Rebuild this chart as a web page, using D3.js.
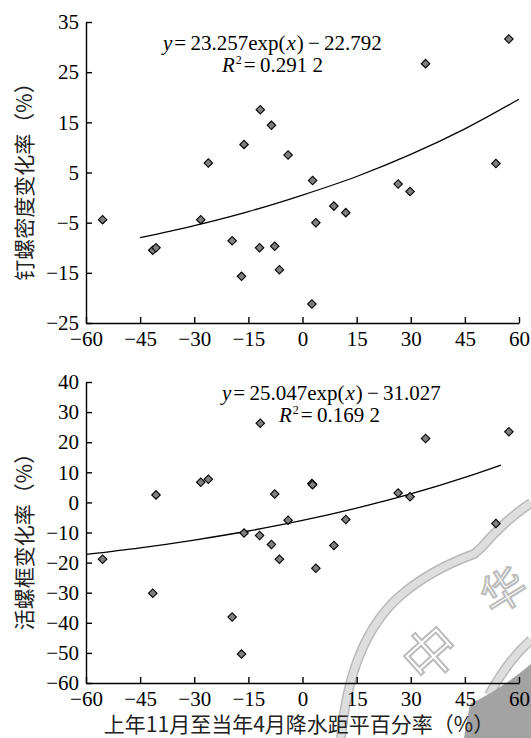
<!DOCTYPE html>
<html>
<head>
<meta charset="utf-8">
<script src="https://cdn.jsdelivr.net/npm/d3@7"></script>
<style>
  body { margin: 0; background: #fff; }
  svg { display: block; }
</style>
</head>
<body>
<svg id="chart" width="531" height="738"></svg>
<script>
// precipitation anomaly (Nov - Apr), %, one value per site
const precip = [-55.4, -41.5, -40.6, -28.2, -26.1, -19.5, -16.9, -16.2, -11.9, -11.7, -8.6, -7.7,
                -6.4, -4.0, 2.6, 2.8, 3.7, 8.7, 12.0, 26.5, 29.8, 34.1, 53.6, 57.2];
// snail density change, %
const densityChange = [-4.4, -10.5, -10.0, -4.4, 6.9, -8.6, -15.7, 10.6, -10.0, 17.5, 14.4, -9.7,
                       -14.4, 8.5, -21.2, 3.4, -5.0, -1.7, -3.0, 2.7, 1.2, 26.7, 6.8, 31.6];
// live snail frame change, %
const frameChange = [-18.9, -30.2, 2.5, 6.7, 7.7, -38.1, -50.4, -10.2, -11.0, 26.3, -14.0, 2.8,
                     -18.9, -5.9, 6.3, 5.9, -21.9, -14.3, -5.7, 3.1, 1.9, 21.2, -7.0, 23.5];

// fitted curves
const densityTrendX = [-45, -30, -15, 0, 15, 30, 45, 60];
const densityTrendY = [-8.0, -5.6, -2.8, 0.5, 4.2, 8.6, 13.7, 19.6];
const frameTrendX = [-60, -45, -30, -15, 0, 15, 30, 45, 55];
const frameTrendY = [-17.3, -15.1, -12.5, -9.5, -6.0, -1.9, 2.8, 8.3, 12.4];

const xTicks = [-60, -45, -30, -15, 0, 15, 30, 45, 60];
const densityTicks = [-25, -15, -5, 5, 15, 25, 35];
const frameTicks = [-60, -50, -40, -30, -20, -10, 0, 10, 20, 30, 40];

const SERIF = '"Liberation Serif", "Times New Roman", Times, serif';
const CJK = '"Noto Sans CJK SC", sans-serif';

const svg = d3.select('#chart');

// faint stamp in the lower right corner (background decoration)
function drawStamp() {
    let g = svg.append('g').attr('class', 'stamp');
    let outer = 'M341,738 Q350,640 400,596 Q430,570 474,554 L481,548 Q505,520 531,503';
    let inner = 'M489,695 Q508,660 531,640';
    [outer, inner].forEach(d => {
        g.append('path').attr('d', d)
            .attr('fill', 'none').attr('stroke', '#b8b8b8').attr('stroke-width', 10);
        g.append('path').attr('d', d)
            .attr('fill', 'none').attr('stroke', '#dedede').attr('stroke-width', 7);
    });
    g.append('path')
        .attr('d', 'M464,738 L470,704 Q500,690 531,664 L531,738 Z')
        .attr('fill', '#a3a3a3');
    g.append('text')
        .attr('font-family', CJK)
        .attr('transform', 'translate(444,668) rotate(-42)')
        .attr('text-anchor', 'middle')
        .attr('font-size', 54)
        .attr('fill', '#fff').attr('stroke', '#bcbcbc').attr('stroke-width', 2)
        .text('中');
    g.append('text')
        .attr('font-family', CJK)
        .attr('transform', 'translate(512,604) rotate(-32)')
        .attr('text-anchor', 'middle')
        .attr('font-size', 44)
        .attr('fill', '#fff').attr('stroke', '#bcbcbc').attr('stroke-width', 2)
        .text('华');
}

function drawPanel(opt) {
    let x = d3.scaleLinear().domain([-60, 60]).range([86, 519]);
    let y = d3.scaleLinear().domain(opt.domain).range([opt.bottom, opt.top]);
    let g = svg.append('g');

    g.append('g')
        .attr('transform', 'translate(0,' + opt.bottom + ')')
        .call(d3.axisBottom(x).tickValues(xTicks).tickSizeInner(-6).tickSizeOuter(0).tickPadding(8));

    g.append('g')
        .attr('transform', 'translate(86,0)')
        .call(d3.axisLeft(y).tickValues(opt.ticks).tickSizeInner(-6).tickSizeOuter(0).tickPadding(7));

    g.selectAll('.domain, .tick line').attr('stroke', '#000').attr('stroke-width', 1.4);
    g.selectAll('.tick text')
        .attr('font-family', SERIF)
        .attr('font-size', 21)
        .attr('fill', '#000');

    let line = d3.line()
        .x(d => x(d[0]))
        .y(d => y(d[1]))
        .curve(d3.curveMonotoneX);
    g.append('path')
        .datum(d3.zip(opt.trendX, opt.trendY))
        .attr('d', line)
        .attr('fill', 'none')
        .attr('stroke', '#000')
        .attr('stroke-width', 1.3);

    let diamond = d3.symbol(d3.symbolSquare, 36);
    g.selectAll('.pt')
        .data(d3.zip(precip, opt.values))
        .join('path')
        .attr('class', 'pt')
        .attr('d', diamond)
        .attr('transform', d => 'translate(' + x(d[0]) + ',' + y(d[1]) + ') rotate(45)')
        .attr('fill', '#7f7f7f')
        .attr('stroke', '#000')
        .attr('stroke-width', 1.1);

    // equation
    let eq = g.append('text').attr('font-family', SERIF).attr('font-size', 21)
        .attr('x', opt.eqX).attr('y', opt.eqY);
    eq.append('tspan').attr('font-style', 'italic').text('y');
    eq.append('tspan').attr('dx', 2).text('=\u2009' + opt.a + 'exp(');
    eq.append('tspan').attr('font-style', 'italic').attr('dx', 1).text('x');
    eq.append('tspan').attr('dx', 1).text(')\u2009\u2212\u2009' + opt.b);

    let r2 = g.append('text').attr('font-family', SERIF).attr('font-size', 21)
        .attr('x', opt.r2X).attr('y', opt.eqY + 22);
    r2.append('tspan').attr('font-style', 'italic').text('R');
    r2.append('tspan').attr('font-size', 12).attr('dx', 1).attr('dy', -8).text('2');
    r2.append('tspan').attr('dx', 2).attr('dy', 8).text('=\u2009' + opt.r2);

    // y title
    svg.append('text')
        .attr('font-family', CJK)
        .attr('font-size', 21)
        .attr('fill', '#222')
        .attr('text-anchor', 'middle')
        .attr('transform', 'translate(32,' + ((opt.top + opt.bottom) / 2 + 4) + ') rotate(-90)')
        .text(opt.title);
}

drawStamp();

drawPanel({
    domain: [-25, 35], ticks: densityTicks, top: 22, bottom: 323,
    values: densityChange, trendX: densityTrendX, trendY: densityTrendY,
    a: '23.257', b: '22.792', r2: '0.291 2', eqX: 163, eqY: 50, r2X: 222,
    title: '钉螺密度变化率（%）'
});

drawPanel({
    domain: [-60, 40], ticks: frameTicks, top: 382, bottom: 683,
    values: frameChange, trendX: frameTrendX, trendY: frameTrendY,
    a: '25.047', b: '31.027', r2: '0.169 2', eqX: 222, eqY: 400, r2X: 279,
    title: '活螺框变化率（%）'
});

// x title
svg.append('text')
    .attr('font-family', CJK)
    .attr('font-size', 21)
    .attr('fill', '#222')
    .attr('text-anchor', 'middle')
    .attr('x', 299).attr('y', 732)
    .text('上年11月至当年4月降水距平百分率（%）');
</script>
</body>
</html>
